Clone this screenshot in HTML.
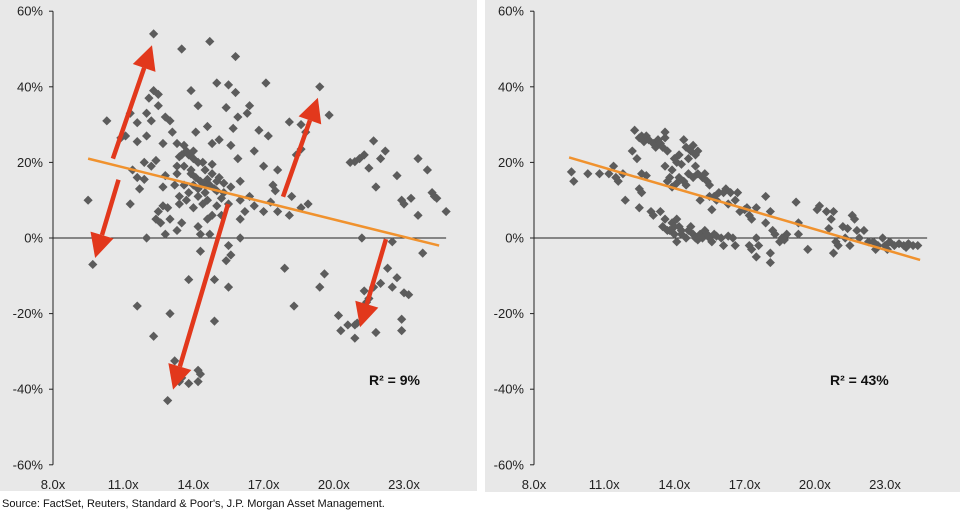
<!DOCTYPE html>
<html><head><meta charset="utf-8"><style>
body{margin:0;background:#fff;width:960px;height:510px;overflow:hidden;font-family:"Liberation Sans",Arial,sans-serif}
svg{display:block}
</style></head><body>
<svg id="s" width="960" height="510">
<rect x="0" y="0" width="477" height="491" fill="#e8e8e8"/>
<rect x="485" y="0" width="475" height="492" fill="#e8e8e8"/>
<text x="2" y="507" font-size="11" fill="#111">Source: FactSet, Reuters, Standard &amp; Poor's, J.P. Morgan Asset Management.</text>
</svg>
<script>
const yTicks=[60,40,20,0,-20,-40,-60];
const xTicks=[8,11,14,17,20,23];
const xTickLabels=["8.0x","11.0x","14.0x","17.0x","20.0x","23.0x"];
const leftPoints=[[12.3,54],[14.7,52],[13.5,50],[15.8,48],[17.1,41],[19.4,40],[15.0,41],[15.5,40.5],[13.9,39],[15.8,38.5],[12.3,39],[12.1,37],[12.5,38],[10.3,31],[19.8,32.5],[18.1,30.7],[14.2,35],[16.4,35],[15.9,32],[15.4,34.5],[11.3,33],[12.5,35],[12.8,32],[13.0,31],[12.2,31],[11.6,30.5],[12.0,33],[16.3,33],[18.6,30],[14.6,29.5],[15.7,29],[16.8,28.5],[14.1,28],[13.1,28],[12.0,27],[11.1,27],[10.9,26.5],[18.8,28],[17.2,27],[15.1,26],[14.8,25],[13.3,25],[12.7,25],[11.6,25.5],[21.7,25.7],[15.6,24.5],[13.6,24.5],[14.0,23],[13.8,22],[13.4,21.5],[16.6,23],[22.2,23],[18.4,22],[21.3,22],[21.1,21],[20.7,20],[20.9,20.2],[15.9,21],[23.6,21],[22.0,21],[11.9,20],[12.4,20.5],[12.2,19],[14.4,20],[14.8,19.5],[13.3,19],[17.0,19],[18.6,23.5],[17.6,18],[21.5,18.5],[24.0,18],[22.7,16.5],[11.4,18],[11.6,16],[11.9,15.5],[12.8,16.5],[13.9,17],[14.3,15],[14.6,15.5],[15.1,16],[15.3,14.5],[15.6,13.5],[14.0,14],[13.6,14],[13.2,14],[12.7,13.5],[11.7,13],[21.8,13.5],[17.4,14],[17.5,12.5],[16.0,15],[16.4,11],[16.0,10],[15.0,12.5],[14.5,12],[14.2,11],[13.7,10],[13.4,9],[15.2,10.5],[15.5,9],[16.6,8.5],[17.3,9.5],[17.6,7],[17.0,7],[18.2,11],[18.9,9],[18.6,8],[18.1,6],[16.2,7],[16.0,5],[14.8,6],[15.2,6],[14.6,5],[14.2,3],[14.3,1],[14.7,1],[12.9,8],[13.0,5],[12.5,7],[12.4,5],[12.6,4],[12.7,8.5],[12.8,1],[13.5,4],[13.3,2],[11.3,9],[9.5,10],[24.2,12],[24.4,10.5],[23.3,10.5],[23.6,6],[24.8,7],[23.0,9],[22.9,10],[24.3,11],[16.0,0],[12.0,0],[21.2,0],[22.5,-1],[23.8,-4],[9.7,-7],[14.3,-3.5],[15.5,-2],[15.6,-4.5],[15.4,-6],[14.9,-11],[15.5,-13],[13.8,-11],[17.9,-8],[18.3,-18],[19.4,-13],[19.6,-9.5],[22.3,-8],[22.7,-10.5],[22.5,-13],[23.0,-14.5],[23.2,-15],[22.0,-12],[21.7,-13],[21.5,-16],[21.3,-14],[22.9,-21.5],[22.9,-24.5],[20.2,-20.5],[20.3,-24.5],[20.6,-23],[20.9,-23],[21.0,-22.5],[20.9,-26.5],[21.8,-25],[11.6,-18],[12.3,-26],[13.0,-20],[14.9,-22],[13.2,-32.5],[14.2,-35],[14.3,-36],[14.2,-38],[13.5,-37],[13.8,-38.5],[12.9,-43],[21.4,-17],[13.4,-38],[13.5,22],[13.7,23],[14.0,21],[14.2,20],[14.5,18],[14.8,17],[15.0,15],[14.5,14],[14.9,13],[14.1,16],[13.9,18],[13.6,19],[13.3,17],[14.4,9],[14.6,10],[15.0,8.5],[14.0,8],[13.8,12],[14.7,14],[15.3,12],[14.2,13],[13.4,11]];
const rightPoints=[[9.6,17.5],[9.7,15],[10.3,17],[10.8,17],[11.4,19],[11.2,17],[11.5,16],[11.6,15],[11.8,17],[11.9,10],[12.2,23],[12.3,28.5],[12.4,21],[12.5,26.5],[12.6,27],[12.7,25.5],[12.8,27],[12.9,26],[13.1,25],[13.2,24],[13.3,26],[13.4,25],[13.5,24],[13.6,26.5],[13.6,28],[13.7,23],[12.6,17],[12.8,16.5],[12.5,13],[12.6,12],[12.5,8],[13.0,7],[13.1,6],[13.4,7],[13.6,19],[13.7,15],[13.8,16],[13.9,18],[14.0,21],[14.1,20],[14.2,22],[14.3,19.5],[14.4,26],[14.5,24],[14.6,21],[14.7,23],[14.8,24.5],[14.9,22],[15.0,23],[14.9,19],[14.2,16],[14.4,15],[14.6,17],[14.8,16],[15.0,17],[15.2,16],[15.3,17],[15.4,15],[14.5,14],[14.1,14.5],[13.9,13.5],[15.5,14],[15.1,10],[15.5,11],[15.7,11],[15.8,10],[15.6,7.5],[15.9,12],[16.1,12],[16.2,13],[16.4,12],[16.3,9],[16.6,10],[16.7,12],[16.8,7],[17.0,7.5],[17.1,8],[17.2,6],[17.3,5],[17.5,8],[17.9,11],[18.1,7],[17.9,4],[18.2,2],[18.3,1],[18.5,-1],[18.7,-0.5],[18.8,1],[18.6,0],[19.2,9.5],[19.3,4],[19.3,1],[19.7,-3],[20.1,7.5],[20.2,8.5],[20.5,7],[20.6,2.5],[20.7,5],[20.8,7],[20.9,-1],[20.8,-4],[21.0,-2],[21.2,3],[21.4,2.5],[21.3,0],[21.5,-2],[21.6,6],[21.7,5],[21.8,2],[21.9,0],[22.1,2],[22.3,-1],[22.5,-1],[22.7,-2],[22.9,0],[23.0,-2],[23.2,-1],[23.4,-2],[23.6,-1.5],[23.8,-2],[24.0,-1.5],[24.2,-2],[24.4,-2],[22.6,-3],[23.1,-3],[23.9,-2.5],[13.5,3],[13.6,5],[13.7,2],[13.9,4],[14.0,1],[14.1,-1],[14.1,5],[14.2,3],[14.3,1],[14.5,0],[14.6,2],[14.7,3],[14.8,1],[14.9,0],[15.0,-0.5],[15.1,1],[15.2,0],[15.3,2],[15.4,1],[15.5,0],[15.6,-1],[15.7,1],[15.8,0.5],[16.0,0],[16.1,-2],[16.3,0.5],[16.5,0],[16.6,-2],[17.2,-2],[17.3,-3],[17.5,0],[17.6,-2],[17.5,-5],[18.1,-4],[18.1,-6.5],[14.3,2],[14.0,3],[13.8,2]];
const leftTrend=[[9.5,21],[24.5,-2]];
const rightTrend=[[9.5,21.3],[24.5,-5.8]];
const leftArrows=[[[10.56,21],[12.23,51]],[[10.8,15.4],[9.8,-5.3]],[[15.48,9],[13.13,-40.1]],[[17.83,10.9],[19.32,37.1]],[[22.23,-0.3],[21.12,-23.6]]];
const leftR2="R² = 9%", rightR2="R² = 43%";

const NS="http://www.w3.org/2000/svg";
const svg=document.getElementById('s');
function mk(tag,attrs,parent){const e=document.createElementNS(NS,tag);for(const k in attrs)e.setAttribute(k,attrs[k]);(parent||svg).appendChild(e);return e;}

function panel(ox,points,trend,arrows,r2,r2x,prefix){
  const x0=ox+53, ux=23.4;
  const X=v=>x0+(v-8)*ux;
  const Y=v=>238-v*3.78;
  const g=mk('g',{});
  
  
  const ax=mk('line',{x1:X(8),x2:X(8),y1:Y(60),y2:Y(-60),stroke:'#222','stroke-width':1},g);
  
  
  yTicks.forEach(t=>{
    mk('line',{x1:X(8)-4,x2:X(8),y1:Y(t),y2:Y(t),stroke:'#222'},g);
    const tx=mk('text',{x:X(8)-10,y:Y(t)+4.5,'text-anchor':'end','font-size':13,fill:'#222'},g);
    tx.textContent=t+'%';
    
    
  });
  xTicks.forEach((t,i)=>{
    const tx=mk('text',{x:X(t),y:489,'text-anchor':'middle','font-size':13,fill:'#222'},g);
    tx.textContent=xTickLabels[i];
    
    
  });
  const zl=mk('line',{x1:X(8),x2:X(24.8),y1:Y(0),y2:Y(0),stroke:'#222','stroke-width':1},g);
  
  
  points.forEach(p=>{
    const cx=X(p[0]),cy=Y(p[1]),r=4.6;
    const d=mk('polygon',{points:`${cx},${cy-r} ${cx+r},${cy} ${cx},${cy+r} ${cx-r},${cy}`,fill:'#5c5c5c'},g);
    
    
  });
  const tl=mk('line',{x1:X(trend[0][0]),y1:Y(trend[0][1]),x2:X(trend[1][0]),y2:Y(trend[1][1]),stroke:'#f0922e','stroke-width':2.5},g);
  
  
  arrows.forEach(a=>{
    const x1=X(a[0][0]),y1=Y(a[0][1]),x2=X(a[1][0]),y2=Y(a[1][1]);
    const dx=x2-x1,dy=y2-y1,L=Math.hypot(dx,dy),ux2=dx/L,uy=dy/L,h=24,w=12;
    const bx=x2-ux2*h,by=y2-uy*h;
    const ag=mk('g',{},g);
    
    
    mk('line',{x1:x1,y1:y1,x2:bx,y2:by,stroke:'#e2381c','stroke-width':4.5},ag);
    mk('polygon',{points:`${x2},${y2} ${bx-uy*w},${by+ux2*w} ${bx+uy*w},${by-ux2*w}`,fill:'#e2381c'},ag);
  });
  const rt=mk('text',{x:r2x,y:385,'font-size':14,'font-weight':'bold',fill:'#111'},g);
  rt.textContent=r2;
  
  
}
panel(0,leftPoints,leftTrend,leftArrows,leftR2,369,'left');
panel(481,rightPoints,rightTrend,[],rightR2,830,'right');
</script>
</body></html>
